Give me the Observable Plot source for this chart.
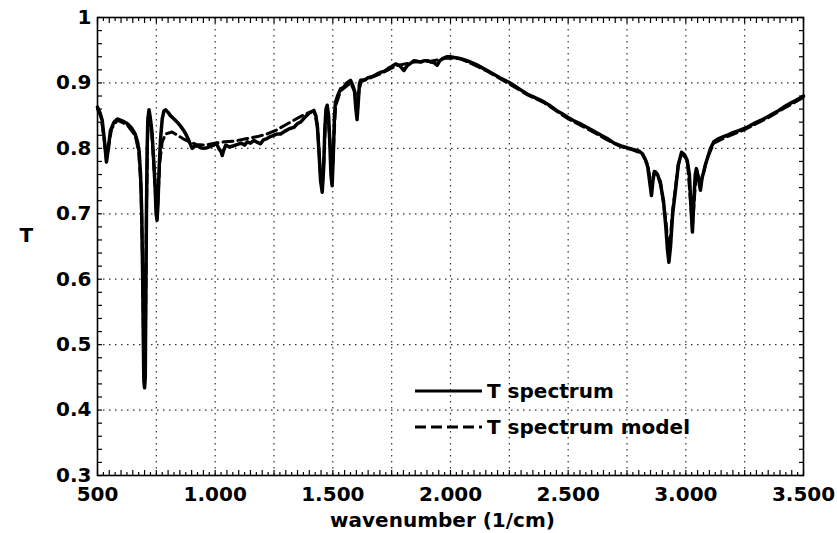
<!DOCTYPE html>
<html><head><meta charset="utf-8">
<script src="https://cdn.jsdelivr.net/npm/d3@7"></script>
<script src="https://cdn.jsdelivr.net/npm/@observablehq/plot@0.6"></script>
<style>
body{margin:0;background:#fff}
#wrap{position:relative;width:837px;height:533px;font-family:"DejaVu Sans",Verdana,sans-serif;font-weight:bold}
.leg{position:absolute;left:415px;height:26px;display:flex;align-items:center;font-size:20px;color:#000;white-space:nowrap}
.leg svg{display:block;margin-right:5px}
</style></head><body><div id="wrap"></div>
<script>
// measured spectrum (solid)
const wnSpectrum = [500,510,520,530,538,546,555,570,584,605,626,645,660,670,677,683,688,692,695,697,700,703,705,708,711,714,719,725,732,739,745,749,753,757,762,768,775,782,789,800,810,825,839,853,867,878,888,895,902,912,924,938,950,966,980,994,1005,1015,1025,1030,1036,1045,1060,1079,1095,1110,1125,1136,1150,1165,1180,1193,1205,1220,1235,1249,1265,1278,1295,1315,1334,1350,1363,1380,1400,1419,1428,1435,1442,1448,1455,1461,1466,1471,1476,1482,1487,1492,1497,1502,1507,1511,1520,1533,1545,1560,1575,1585,1592,1598,1603,1608,1613,1618,1635,1650,1670,1685,1703,1720,1735,1750,1767,1785,1802,1815,1830,1845,1860,1873,1890,1905,1915,1930,1943,1955,1970,1986,2000,2015,2030,2043,2060,2085,2110,2135,2156,2180,2210,2248,2275,2300,2326,2350,2375,2397,2420,2450,2475,2496,2520,2550,2581,2610,2640,2666,2695,2722,2750,2779,2800,2815,2828,2838,2846,2854,2860,2866,2871,2880,2892,2905,2915,2922,2928,2935,2944,2956,2968,2982,2995,3006,3015,3022,3028,3034,3040,3045,3053,3062,3069,3076,3083,3091,3105,3119,3140,3160,3176,3200,3225,3246,3270,3295,3320,3346,3370,3395,3416,3440,3470,3500];
const tSpectrum = [0.863,0.855,0.843,0.81,0.779,0.80,0.827,0.840,0.845,0.842,0.838,0.831,0.822,0.810,0.795,0.760,0.700,0.600,0.500,0.445,0.434,0.450,0.550,0.700,0.800,0.845,0.859,0.845,0.823,0.780,0.740,0.700,0.690,0.715,0.770,0.815,0.845,0.857,0.859,0.855,0.850,0.845,0.840,0.834,0.827,0.820,0.812,0.806,0.800,0.803,0.804,0.801,0.800,0.801,0.803,0.805,0.808,0.800,0.795,0.789,0.797,0.805,0.802,0.804,0.806,0.808,0.805,0.810,0.808,0.812,0.809,0.807,0.813,0.815,0.818,0.820,0.822,0.822,0.826,0.830,0.832,0.838,0.840,0.847,0.854,0.858,0.850,0.830,0.790,0.750,0.733,0.770,0.830,0.860,0.866,0.850,0.810,0.760,0.743,0.790,0.850,0.870,0.880,0.891,0.893,0.900,0.904,0.896,0.888,0.860,0.844,0.870,0.898,0.904,0.905,0.908,0.910,0.913,0.916,0.918,0.922,0.925,0.929,0.926,0.919,0.926,0.930,0.934,0.933,0.932,0.934,0.934,0.932,0.931,0.927,0.934,0.938,0.940,0.940,0.939,0.938,0.937,0.935,0.932,0.928,0.923,0.919,0.914,0.908,0.901,0.895,0.889,0.883,0.879,0.875,0.871,0.866,0.858,0.853,0.848,0.843,0.838,0.832,0.826,0.820,0.815,0.808,0.804,0.801,0.798,0.796,0.792,0.783,0.772,0.750,0.728,0.750,0.763,0.764,0.760,0.746,0.720,0.680,0.645,0.626,0.650,0.700,0.736,0.775,0.794,0.790,0.781,0.760,0.710,0.672,0.720,0.760,0.769,0.755,0.736,0.755,0.764,0.775,0.784,0.800,0.810,0.815,0.818,0.820,0.824,0.827,0.830,0.834,0.839,0.843,0.848,0.853,0.858,0.863,0.868,0.874,0.880];
// model (dashed)
const wnModel = [500,515,528,538,548,560,584,626,660,675,685,692,696,700,704,708,713,719,730,740,748,753,758,765,775,790,817,840,867,890,920,960,1000,1040,1080,1136,1180,1221,1260,1300,1334,1370,1400,1420,1435,1447,1455,1462,1470,1476,1486,1497,1505,1512,1533,1575,1595,1603,1610,1620,1703,1767,1845,1915,1986,2043,2156,2248,2326,2397,2496,2581,2666,2722,2779,2815,2838,2854,2866,2892,2915,2928,2944,2968,2982,3006,3028,3045,3062,3091,3119,3176,3246,3346,3416,3500];
const tModel = [0.860,0.848,0.815,0.783,0.805,0.830,0.843,0.836,0.820,0.795,0.740,0.620,0.490,0.460,0.520,0.700,0.820,0.855,0.825,0.770,0.720,0.700,0.730,0.780,0.810,0.822,0.825,0.820,0.814,0.810,0.806,0.805,0.808,0.810,0.811,0.815,0.818,0.822,0.828,0.836,0.843,0.850,0.855,0.857,0.835,0.760,0.740,0.780,0.850,0.862,0.820,0.750,0.820,0.865,0.888,0.900,0.885,0.850,0.885,0.902,0.914,0.926,0.932,0.933,0.938,0.937,0.918,0.899,0.882,0.870,0.846,0.830,0.813,0.803,0.797,0.792,0.775,0.740,0.765,0.750,0.690,0.635,0.705,0.775,0.792,0.783,0.680,0.768,0.745,0.785,0.808,0.818,0.828,0.846,0.861,0.878];

const seriesNames = ["T spectrum", "T spectrum model"];
const xTickLabels = [500,1000,1500,2000,2500,3000,3500];
const yTickLabels = [0.3,0.4,0.5,0.6,0.7,0.8,0.9,1];
const xGridValues = [750,1000,1250,1500,1750,2000,2250,2500,2750,3000,3250];
const yGridValues = [0.4,0.5,0.6,0.7,0.8,0.9];

const spectrum = wnSpectrum.map((w, i) => ({w, t: tSpectrum[i]}));
const model = wnModel.map((w, i) => ({w, t: tModel[i]}));

const x25 = d3.range(500, 3501, 25).filter(v => v % 50 !== 0);
const x50 = d3.range(500, 3501, 50);
const yMinor = d3.range(30, 101, 2).map(v => v / 100);

const fmtX = d => d3.format(",")(d).replace(/,/g, ".");
const axisStyle = {stroke: "#000", strokeWidth: 1.2, fill: "none", label: null};

const plot = Plot.plot({
  width: 837, height: 533,
  marginLeft: 97, marginRight: 34, marginTop: 17, marginBottom: 58,
  style: {fontFamily: "DejaVu Sans, Verdana, sans-serif", fontWeight: "bold", fontSize: "20px", color: "#000", background: "#fff", overflow: "visible"},
  x: {domain: [500, 3500]},
  y: {domain: [0.3, 1]},
  marks: [
    Plot.gridX(xGridValues, {stroke: "#000", strokeOpacity: 0.8, strokeWidth: 1.2, strokeDasharray: "1.5,4.5"}),
    Plot.gridY(yGridValues, {stroke: "#000", strokeOpacity: 0.8, strokeWidth: 1.2, strokeDasharray: "1.5,4.5"}),
    // inward ticks
    Plot.axisX(x50, {...axisStyle, anchor: "bottom", tickSize: 5, insetBottom: 5}),
    Plot.axisX(x25, {...axisStyle, anchor: "bottom", tickSize: 3, insetBottom: 3}),
    Plot.axisX(x50, {...axisStyle, anchor: "top", tickSize: 5, insetTop: 5}),
    Plot.axisX(x25, {...axisStyle, anchor: "top", tickSize: 3, insetTop: 3}),
    Plot.axisY(yMinor, {...axisStyle, anchor: "left", tickSize: 5, insetLeft: 5}),
    Plot.axisY(yMinor, {...axisStyle, anchor: "right", tickSize: 5, insetRight: 5}),
    // labels
    Plot.axisX(xTickLabels, {anchor: "bottom", tickSize: 0, tickPadding: 11, tickFormat: fmtX, fontSize: 20, fontWeight: "bold", label: null}),
    Plot.axisY(yTickLabels, {anchor: "left", tickSize: 0, tickPadding: 6, tickFormat: d3.format("~g"), fontSize: 20, fontWeight: "bold", label: null}),
    Plot.text(["wavenumber (1/cm)"], {frameAnchor: "bottom", lineAnchor: "middle", dy: 45, dx: -8, fontSize: 20, fontWeight: "bold"}),
    Plot.text(["T"], {frameAnchor: "left", lineAnchor: "middle", dx: -78, dy: -11, fontSize: 20, fontWeight: "bold"}),
    Plot.line(model, {x: "w", y: "t", stroke: "#000", strokeWidth: 3, strokeDasharray: "10,5", strokeLinejoin: "round"}),
    Plot.line(spectrum, {x: "w", y: "t", stroke: "#000", strokeWidth: 3.5, strokeLinejoin: "round"}),
    Plot.frame({stroke: "#000", strokeWidth: 1.6})
  ]
});

const wrap = document.getElementById("wrap");
wrap.appendChild(plot);

function legendItem(name, dash, top) {
  const div = document.createElement("div");
  div.className = "leg";
  div.style.top = top + "px";
  div.innerHTML = `<svg width="67" height="10"><line x1="0" x2="67" y1="5" y2="5" stroke="#000" stroke-width="3" ${dash ? 'stroke-dasharray="11,5"' : ''}/></svg><span>${name}</span>`;
  wrap.appendChild(div);
}
legendItem(seriesNames[0], false, 378);
legendItem(seriesNames[1], true, 414);
</script></body></html>
